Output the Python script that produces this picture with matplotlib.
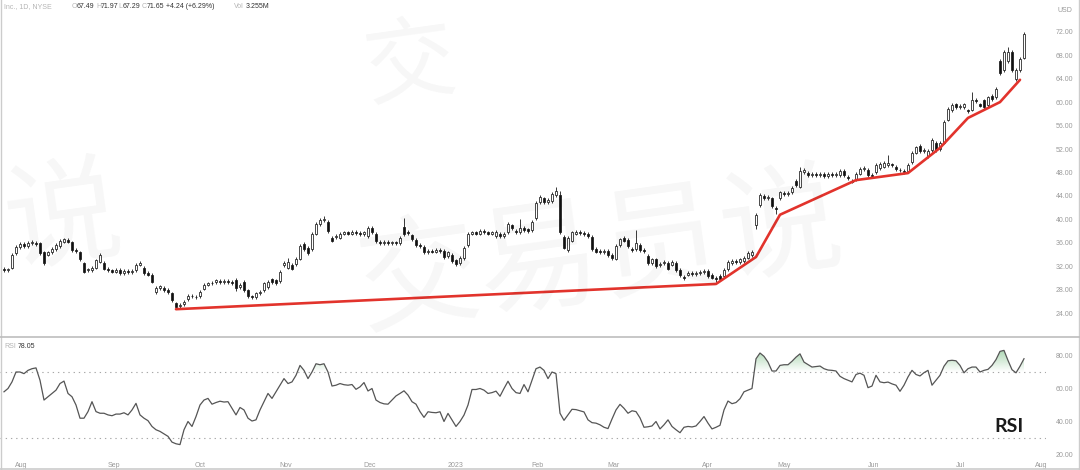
import numpy as np
import matplotlib.pyplot as plt
from matplotlib.path import Path
from matplotlib.lines import Line2D
from matplotlib.colors import LinearSegmentedColormap

# daily candles, late Jul 2022 .. late Jul 2023
opens = [
    31.6, 31.3, 31.8, 34.2, 35.3, 35.8, 35.5, 35.9, 36.0, 36.0,
    34.4, 34.0, 34.4, 35.0, 35.4, 36.2, 36.5, 36.1, 34.8, 34.5,
    32.6, 31.3, 31.4, 31.8, 32.8, 32.6, 31.6, 31.3, 31.1, 31.4,
    30.9, 31.2, 31.0, 31.4, 32.3, 31.8, 30.9, 30.6, 27.6, 28.3,
    28.3, 28.0, 27.4, 25.7, 25.2, 25.5, 26.4, 27.0, 26.8, 26.9,
    28.2, 28.9, 29.1, 29.3, 29.5, 29.3, 29.5, 29.4, 29.6, 28.5,
    29.3, 28.0, 26.9, 26.8, 27.4, 27.9, 28.5, 29.8, 29.6, 29.5,
    32.2, 31.8, 32.3, 32.4, 33.3, 35.8, 35.1, 35.0, 37.6, 39.2,
    39.9, 39.6, 36.8, 37.0, 36.9, 37.6, 37.8, 37.6, 37.9, 37.7,
    37.5, 37.2, 38.5, 37.6, 36.2, 36.0, 36.2, 35.9, 36.1, 36.0,
    38.7, 37.9, 37.3, 36.5, 35.7, 35.3, 34.4, 34.7, 34.5, 34.8,
    34.6, 33.8, 34.0, 33.0, 32.6, 33.4, 35.6, 37.6, 37.8, 37.6,
    38.0, 37.8, 37.6, 37.2, 37.5, 37.2, 37.8, 39.0, 38.0, 37.8,
    38.6, 38.3, 38.2, 40.2, 43.0, 43.6, 43.0, 43.1, 44.2, 44.2,
    37.0, 34.8, 36.4, 37.6, 37.9, 37.7, 37.5, 37.0, 35.0, 34.6,
    34.4, 34.6, 33.9, 33.3, 35.6, 36.8, 36.5, 35.0, 35.0, 35.7,
    34.8, 33.8, 32.6, 33.2, 32.2, 32.5, 32.6, 32.3, 32.6, 31.4,
    30.2, 30.6, 30.9, 30.7, 30.9, 31.0, 31.2, 30.5, 30.0, 30.4,
    30.3, 31.5, 32.6, 32.9, 32.7, 32.9, 33.5, 33.9, 39.0, 42.5,
    44.0, 43.6, 43.6, 42.0, 43.6, 44.5, 44.3, 44.6, 46.6, 45.6,
    48.0, 47.9, 47.6, 47.8, 47.5, 47.7, 47.4, 47.7, 47.5, 47.6,
    48.3, 47.2, 46.6, 46.8, 47.8, 48.6, 48.4, 47.6, 48.0, 48.8,
    49.0, 49.3, 49.4, 48.9, 48.5, 48.3, 48.2, 49.8, 51.4, 52.6,
    51.7, 50.8, 51.8, 53.0, 52.0, 53.1, 57.0, 58.6, 59.6, 59.2,
    59.1, 58.6, 58.7, 60.4, 59.6, 60.3, 59.5, 61.0, 60.8, 67.0,
    65.4, 67.0, 68.6, 63.9, 65.4, 67.49,
]
highs = [
    31.9, 31.8, 34.3, 35.6, 36.1, 36.1, 36.3, 36.5, 36.3, 36.2,
    34.6, 34.7, 35.3, 35.9, 36.6, 36.9, 36.8, 36.3, 35.1, 34.7,
    32.8, 31.8, 32.0, 33.3, 34.3, 32.9, 31.9, 31.6, 31.7, 31.7,
    31.5, 31.5, 31.5, 32.6, 32.9, 32.1, 31.2, 30.8, 28.6, 28.9,
    28.6, 28.3, 27.6, 25.9, 25.7, 26.3, 27.3, 27.3, 27.1, 27.9,
    29.2, 29.4, 29.5, 29.9, 29.8, 29.8, 29.8, 29.7, 30.0, 29.1,
    29.6, 28.2, 27.2, 27.7, 27.9, 29.4, 29.7, 30.1, 29.9, 31.3,
    32.9, 33.4, 32.6, 33.6, 35.8, 36.1, 35.4, 37.9, 39.6, 40.2,
    40.6, 39.9, 37.1, 37.5, 37.9, 38.1, 38.1, 38.2, 38.2, 38.0,
    38.1, 38.8, 38.8, 37.9, 36.5, 36.5, 36.5, 36.4, 36.4, 37.2,
    40.2, 38.2, 37.6, 36.8, 36.0, 35.6, 35.0, 35.0, 35.1, 35.1,
    34.9, 34.7, 34.3, 33.3, 33.7, 35.5, 37.9, 38.1, 38.1, 38.3,
    38.3, 38.1, 38.1, 38.2, 37.8, 37.8, 39.5, 39.3, 38.3, 40.0,
    38.9, 38.6, 39.9, 43.1, 44.1, 43.9, 43.6, 44.6, 45.5, 44.8,
    37.3, 37.1, 38.1, 38.2, 38.2, 38.0, 37.8, 37.3, 35.3, 34.9,
    34.9, 34.9, 34.2, 35.8, 36.9, 37.1, 36.8, 35.3, 38.2, 36.0,
    35.1, 34.1, 33.5, 33.5, 32.7, 33.0, 32.9, 33.1, 32.9, 31.7,
    30.5, 31.2, 31.2, 31.2, 31.3, 31.5, 31.5, 30.8, 30.3, 30.7,
    31.7, 33.1, 33.2, 33.2, 33.5, 33.8, 34.6, 34.8, 41.1, 44.5,
    44.3, 44.2, 43.9, 42.3, 44.9, 44.8, 44.8, 45.7, 46.9, 49.0,
    48.8, 48.2, 48.1, 48.1, 48.0, 48.0, 48.0, 48.0, 48.1, 48.6,
    48.6, 47.5, 46.9, 48.0, 48.9, 49.1, 48.7, 47.9, 49.6, 49.8,
    49.9, 51.0, 49.7, 49.2, 48.8, 48.6, 49.6, 51.6, 52.6, 52.9,
    52.2, 52.0, 53.8, 53.3, 53.3, 56.9, 59.2, 59.8, 59.9, 59.7,
    59.9, 58.9, 61.8, 60.7, 59.9, 60.6, 61.1, 61.3, 62.5, 67.3,
    68.8, 69.4, 68.9, 65.8, 67.7, 71.97,
]
lows = [
    31.0, 31.0, 31.6, 34.0, 35.0, 35.2, 35.2, 35.6, 35.5, 34.0,
    32.3, 33.7, 34.1, 34.7, 35.1, 35.9, 35.9, 34.5, 34.3, 32.9,
    30.8, 31.0, 31.1, 31.5, 32.5, 31.3, 31.0, 30.8, 30.8, 30.6,
    30.6, 30.7, 30.7, 31.1, 32.0, 30.6, 30.3, 29.1, 27.3, 28.0,
    27.7, 27.3, 25.9, 24.8, 24.9, 25.2, 26.1, 26.6, 26.4, 26.6,
    27.9, 28.6, 28.8, 29.0, 29.0, 29.0, 29.0, 28.9, 27.8, 28.2,
    27.7, 26.6, 26.5, 26.5, 27.1, 27.6, 28.2, 29.0, 28.8, 29.2,
    31.9, 31.5, 31.3, 32.1, 33.0, 34.6, 33.9, 34.7, 37.3, 38.9,
    39.6, 37.7, 36.1, 36.7, 36.6, 37.3, 37.3, 37.3, 37.4, 37.2,
    37.2, 36.9, 37.5, 36.0, 35.7, 35.7, 35.6, 35.6, 35.7, 35.7,
    37.2, 37.4, 36.3, 35.3, 35.1, 34.1, 34.1, 34.2, 34.2, 34.3,
    33.3, 33.5, 32.6, 32.1, 32.3, 33.1, 35.3, 37.3, 37.3, 37.3,
    37.5, 37.3, 37.3, 36.9, 36.9, 36.9, 37.5, 38.2, 37.5, 37.5,
    37.9, 37.7, 37.9, 39.9, 42.7, 42.6, 42.7, 42.8, 43.9, 37.5,
    34.9, 34.5, 36.1, 37.3, 37.4, 37.2, 36.8, 34.7, 34.2, 34.1,
    34.1, 33.6, 33.1, 33.0, 35.3, 36.1, 35.1, 34.5, 34.7, 34.5,
    34.3, 32.3, 32.3, 31.7, 31.9, 32.2, 31.3, 32.0, 31.0, 30.2,
    29.7, 30.3, 30.4, 30.4, 30.6, 30.7, 30.1, 29.8, 29.3, 29.6,
    30.0, 31.2, 32.3, 32.4, 32.4, 32.6, 33.2, 33.6, 38.4, 42.2,
    43.3, 43.3, 42.0, 41.0, 43.3, 44.0, 44.0, 44.3, 45.6, 45.3,
    47.7, 47.3, 47.3, 47.2, 47.2, 47.1, 47.1, 47.2, 47.2, 47.3,
    47.3, 46.7, 46.2, 46.5, 47.5, 48.3, 47.2, 47.1, 47.7, 48.5,
    48.7, 49.0, 48.9, 48.3, 48.1, 47.8, 47.9, 49.5, 51.1, 51.3,
    51.4, 50.5, 51.5, 51.5, 51.7, 52.8, 56.7, 58.3, 58.9, 58.9,
    58.8, 58.1, 58.4, 59.9, 59.1, 58.9, 59.2, 60.2, 60.5, 64.6,
    65.1, 66.7, 65.2, 63.6, 65.1, 67.29,
]
closes = [
    31.3, 31.5, 34.0, 35.3, 35.8, 35.5, 35.9, 36.1, 35.8, 34.3,
    32.6, 34.4, 35.0, 35.6, 36.3, 36.6, 36.2, 34.8, 34.6, 33.2,
    31.1, 31.5, 31.7, 33.0, 34.0, 31.6, 31.3, 31.1, 31.4, 30.9,
    31.2, 31.0, 31.2, 32.3, 32.6, 30.9, 30.6, 29.4, 28.3, 28.6,
    28.0, 27.6, 26.2, 25.1, 25.4, 26.0, 27.0, 26.9, 26.7, 27.6,
    28.9, 29.1, 29.2, 29.6, 29.3, 29.5, 29.3, 29.2, 28.3, 28.8,
    28.0, 26.9, 26.8, 27.4, 27.6, 29.1, 29.4, 29.3, 29.1, 31.0,
    32.6, 32.8, 31.6, 33.3, 35.5, 34.9, 34.2, 37.6, 39.3, 39.9,
    40.1, 38.0, 36.4, 37.2, 37.6, 37.8, 37.6, 37.9, 37.7, 37.5,
    37.8, 38.5, 37.8, 36.3, 36.0, 36.2, 35.9, 36.1, 36.0, 36.9,
    37.6, 37.7, 36.6, 35.6, 35.4, 34.4, 34.7, 34.5, 34.8, 34.6,
    33.6, 34.4, 32.9, 32.4, 33.4, 35.2, 37.6, 37.8, 37.6, 38.0,
    37.8, 37.6, 37.8, 37.9, 37.2, 37.5, 39.2, 38.5, 37.8, 38.6,
    38.2, 38.0, 39.6, 42.8, 43.8, 42.9, 43.3, 44.3, 44.8, 37.8,
    35.2, 36.8, 37.8, 37.9, 37.7, 37.5, 37.1, 35.0, 34.5, 34.4,
    34.6, 33.9, 33.4, 35.5, 36.6, 36.4, 35.4, 34.8, 35.9, 34.8,
    34.6, 32.6, 33.2, 32.0, 32.4, 32.7, 31.6, 32.8, 31.3, 30.5,
    30.0, 30.9, 30.7, 30.9, 31.0, 31.2, 30.4, 30.1, 29.9, 29.9,
    31.4, 32.8, 32.9, 32.7, 33.2, 33.5, 34.3, 34.5, 40.8, 44.2,
    43.6, 43.9, 42.3, 41.7, 44.6, 44.3, 44.5, 45.4, 45.9, 48.2,
    48.5, 47.6, 47.8, 47.5, 47.7, 47.4, 47.7, 47.5, 47.8, 48.3,
    47.6, 47.0, 46.4, 47.7, 48.6, 48.8, 47.5, 47.4, 49.3, 49.5,
    49.6, 49.6, 49.2, 48.6, 48.4, 48.1, 49.3, 51.3, 52.3, 51.6,
    51.9, 51.7, 53.5, 51.8, 53.0, 56.6, 58.9, 59.5, 59.2, 59.4,
    59.6, 58.4, 60.3, 60.2, 59.4, 59.2, 60.8, 60.5, 62.2, 64.9,
    68.5, 68.6, 65.5, 65.5, 67.41, 71.65,
]
rsi = [
    58, 60, 64, 70, 70, 69, 71, 72, 72.5, 65,
    53, 55, 57, 59, 63, 64.5, 57, 55, 50, 42,
    42, 46, 52, 46, 45, 45, 44, 43.5, 44.5, 44.5,
    45.3, 44, 47, 51, 44, 42, 40.5, 37, 35, 34,
    32.5, 31, 27.5, 26.5, 26, 35, 40, 37, 43, 50,
    53, 54, 50.5, 51.5, 52.3, 51.8, 52, 48, 44, 48.5,
    47, 42, 40.3, 41, 47, 52, 57, 54, 58, 62,
    66, 63, 64, 68, 74, 71, 66, 70, 75, 74.4,
    75, 70, 61.5, 62, 63, 62.3, 62, 62.4, 59.5, 61,
    63.6, 58.5, 60, 53, 51.5, 50.7, 50.5, 53, 55.5, 57,
    58.6, 56, 52, 50.5, 46, 42.5, 45.9, 45.5, 45.3, 45.9,
    40, 44.9, 41, 37, 40, 43.9, 50, 59.4, 59.4, 60,
    59, 57, 57.5, 58.4, 55.3, 60, 64.4, 60, 57.5, 57,
    62.4, 58, 65, 72, 73, 71, 66, 70, 69, 45,
    40.7, 44, 47.4, 47.2, 46.5, 45.8, 41, 39.3, 39, 38,
    36.5, 35.7, 41.5, 47, 50.4, 48, 45, 46.5, 46, 42.2,
    36.5, 36.8, 37.3, 40, 35.5, 38, 41, 37, 35, 33.2,
    36.5, 37, 36.7, 37.3, 40, 43, 39, 35.5, 36.5, 37.7,
    47, 52.4, 50.8, 51.5, 53.8, 58, 59, 60, 78, 81.5,
    79.5, 76, 70.6, 70.6, 74, 74.4, 74.4, 76.5, 79, 81,
    76, 74.5, 73, 73.3, 73.6, 72, 71.2, 71, 70.6, 67.4,
    66, 65, 64, 68.5, 69.3, 68, 60.5, 61.5, 68, 64,
    63.5, 63.9, 62.8, 62, 58.3, 62, 67, 71, 68.5, 67.6,
    69.6, 71, 62, 65, 68, 73.5, 76.8, 77.1, 76.8, 74,
    69.5, 72, 73, 73, 70, 71, 71.6, 74, 77.5, 82.5,
    83.1, 77, 71.4, 69.5, 73.5, 78.05,
]

# hand drawn support line (candle index, price)
trend_idx = [43, 178, 188, 194, 213, 226, 234, 241, 249, 254]
trend_price = [24.7, 29.0, 33.6, 40.8, 46.7, 47.9, 52.2, 57.3, 60.0, 63.8]

month_pos = [4.2, 27.5, 49, 70.3, 91.5, 113, 133.3, 152.5, 175.8, 195, 217.5, 239, 259.3]
month_labels = ['Aug', 'Sep', 'Oct', 'Nov', 'Dec', '2023', 'Feb', 'Mar', 'Apr',
                'May', 'Jun', 'Jul', 'Aug']
price_ticks = [24, 28, 32, 36, 40, 44, 48, 52, 56, 60, 64, 68, 72]
rsi_ticks = [20, 40, 60, 80]

W, H = 1080, 470
grey = '#9a9a9a'
small = dict(family='Liberation Sans', fontsize=5)

fig = plt.figure(figsize=(W / 100, H / 100), dpi=100)
fig.patch.set_facecolor('white')
ax = fig.add_axes([0, (H - 337) / H, 1046 / W, 337 / H])
ax2 = fig.add_axes([0, (H - 458) / H, 1046 / W, 121 / H], sharex=ax)

# candles
x = np.arange(len(closes))
o = np.array(opens)
c = np.array(closes)
up = c >= o
ax.vlines(x, lows, highs, color='#1a1a1a', lw=0.6, zorder=2)
body = np.maximum(np.abs(c - o), 0.08)
ax.bar(x, body, bottom=np.minimum(o, c), width=0.62,
       color=np.where(up, 'white', '#111111'), edgecolor='#1a1a1a',
       linewidth=0.55, zorder=3)
ax.plot(trend_idx, trend_price, color='#e2332c', lw=1.9,
        solid_capstyle='round', solid_joinstyle='round', zorder=4)

ax.set_xlim(-1, 260.5)
ax.set_ylim(19.96, 77.4)
ax.yaxis.tick_right()
ax.set_yticks(price_ticks)
ax.set_yticklabels([f'{v:.2f}' for v in price_ticks], **small)
ax.tick_params(axis='y', length=0, pad=7, colors=grey)
ax.tick_params(axis='x', length=0, labelbottom=False)
for s in ax.spines.values():
    s.set_visible(False)

# RSI pane
r = np.array(rsi)
ax2.plot(x, r, color='#555555', lw=0.9, zorder=3)
for lvl in (70, 30):
    ax2.axhline(lvl, color='#a8a8a8', lw=0.8, ls=(0, (1.2, 3.5)), zorder=1)
band = ax2.fill_between(x, 70, r, where=r > 70, interpolate=True,
                        facecolor='none', edgecolor='none')
green = LinearSegmentedColormap.from_list(
    'ob', [(0.30, 0.66, 0.36, 0.0), (0.30, 0.66, 0.36, 0.5)])
grad = np.linspace(0, 1, 200).reshape(-1, 1)
im = ax2.imshow(grad, extent=[-1, 260.5, 70, 84], origin='lower',
                aspect='auto', cmap=green, zorder=2)
im.set_clip_path(Path.make_compound_path(*band.get_paths()), ax2.transData)

ax2.set_xlim(-1, 260.5)
ax2.set_ylim(70 - (458 - 372) / 1.65, 70 + (372 - 337) / 1.65)
ax2.yaxis.tick_right()
ax2.set_yticks(rsi_ticks)
ax2.set_yticklabels([f'{v:.2f}' for v in rsi_ticks], **small)
ax2.tick_params(axis='y', length=0, pad=7, colors=grey)
ax2.set_xticks(month_pos)
ax2.set_xticklabels(month_labels, **small)
ax2.tick_params(axis='x', length=0, pad=3, colors=grey)
for s in ax2.spines.values():
    s.set_visible(False)

# frame lines
lc = '#cccccc'
fig.add_artist(Line2D([0.6 / W, 0.6 / W], [0, 1], color=lc, lw=1))
fig.add_artist(Line2D([1078.5 / W, 1078.5 / W], [0, 1], color=lc, lw=1))
fig.add_artist(Line2D([0, 1], [1.2 / H, 1.2 / H], color=lc, lw=1.2))
fig.add_artist(Line2D([0, 1], [(H - 337) / H] * 2, color='#bdbdbd', lw=1.2))

# header texts
def px(xp, yp):
    return xp / W, 1 - yp / H

fig.text(*px(4, 7), 'Inc., 1D, NYSE', color='#b5b5b5', va='center', **small)
for lab, val, xp in [('O', '67.49', 72), ('H', '71.97', 96), ('L', '67.29', 118),
                     ('C', '71.65', 142)]:
    fig.text(*px(xp, 7), lab, color='#b5b5b5', va='center', **small)
    fig.text(*px(xp + 5, 7), val, color='#333333', va='center', **small)
fig.text(*px(166, 7), '+4.24 (+6.29%)', color='#333333', va='center', **small)
fig.text(*px(234, 7), 'Vol', color='#b5b5b5', va='center', **small)
fig.text(*px(246, 7), '3.255M', color='#333333', va='center', **small)
fig.text(*px(1058, 10), 'USD', color=grey, va='center', **small)
fig.text(*px(4, 346), 'RSI', color='#b5b5b5', va='center', **small)
fig.text(*px(18, 346), '78.05', color='#333333', va='center', **small)
fig.text(*px(1009, 427), 'RSI', color='#1a1a1a', ha='center', va='center',
         family='Lato', fontsize=14, fontweight='bold')

# faint watermark
wm = dict(family='Noto Sans CJK SC', color='black', alpha=0.035,
          ha='center', va='center', rotation=8)
fig.text(*px(600, 255), '交易员说', fontsize=88, **wm)
fig.text(*px(64, 222), '说', fontsize=84, **wm)
fig.text(*px(410, 66), '交', fontsize=66, **wm)

fig.savefig('out.png', dpi=100, facecolor='white')
